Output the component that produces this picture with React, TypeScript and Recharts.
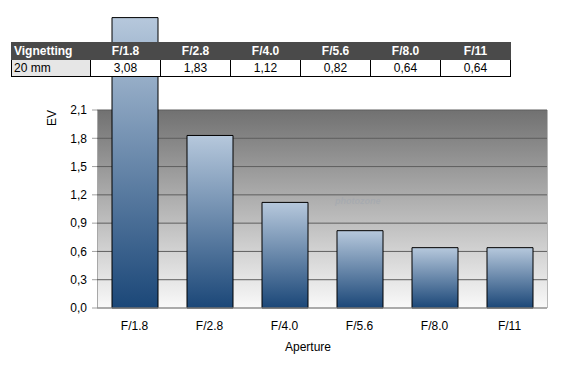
import { Bar, BarChart, CartesianGrid, XAxis, YAxis } from "recharts";

const apertures = ["F/1.8", "F/2.8", "F/4.0", "F/5.6", "F/8.0", "F/11"];
const vignetting = [3.08, 1.83, 1.12, 0.82, 0.64, 0.64];
const yTicks = [0, 0.3, 0.6, 0.9, 1.2, 1.5, 1.8, 2.1];
const rowLabel = "20 mm";

const data = apertures.map((name, i) => ({ name, value: vignetting[i] }));

const fmt = (v: number) => v.toFixed(2).replace(".", ",");
const fmtTick = (v: number) => v.toFixed(1).replace(".", ",");

const font = "'Liberation Sans', Arial, sans-serif";

export default function App() {
  return (
    <div style={{ position: "absolute", left: 0, top: 0, width: 562, height: 369, background: "#fff", fontFamily: font }}>
      {/* grey backdrop of the 0..2,1 band, sits behind the svg */}
      <div
        style={{
          position: "absolute",
          left: 97,
          top: 110,
          width: 449,
          height: 198,
          background: "linear-gradient(#717171, #f9f9f9)",
          borderLeft: "1px solid #a8a8a8",
          borderRight: "1px solid #b8b8b8",
        }}
      />
      <BarChart
        width={562}
        height={369}
        data={data}
        margin={{ top: 11, right: 15, bottom: 31, left: 0 }}
        barSize={46}
      >
        <defs>
          <linearGradient id="barGrad" x1="0" y1="0" x2="0" y2="1">
            <stop offset="0%" stopColor="#b6c8dc" />
            <stop offset="100%" stopColor="#1b4778" />
          </linearGradient>
        </defs>
        <CartesianGrid vertical={false} syncWithTicks stroke="#5e5e5e" />
        <XAxis
          dataKey="name"
          tickLine={false}
          tickSize={0}
          tickMargin={13}
          axisLine={{ stroke: "#a8a8a8" }}
          tick={{ fill: "#000", fontSize: 12, fontFamily: font }}
        />
        <YAxis
          width={97}
          domain={[0, 3.15]}
          ticks={yTicks}
          interval={0}
          tickFormatter={fmtTick}
          axisLine={false}
          tickSize={5}
          tickMargin={5}
          tickLine={{ stroke: "#a0a0a0" }}
          tick={{ fill: "#000", fontSize: 12, fontFamily: font }}
        />
        <Bar
          dataKey="value"
          fill="url(#barGrad)"
          stroke="#000"
          strokeWidth={1}
          isAnimationActive={false}
        />
      </BarChart>

      <div style={{ position: "absolute", left: 335, top: 196, fontSize: 9, color: "rgba(150,160,175,0.35)", fontWeight: "bold", fontStyle: "italic" }}>
        photozone
      </div>

      <div
        style={{
          position: "absolute",
          left: 40,
          top: 111,
          width: 24,
          height: 14,
          fontSize: 12,
          lineHeight: "14px",
          textAlign: "center",
          transform: "rotate(-90deg)",
        }}
      >
        EV
      </div>
      <div style={{ position: "absolute", left: 268, top: 340, width: 80, textAlign: "center", fontSize: 12 }}>
        Aperture
      </div>

      <table
        style={{
          position: "absolute",
          left: 11,
          top: 42,
          width: 498,
          borderCollapse: "collapse",
          fontSize: 12,
          tableLayout: "fixed",
        }}
      >
        <colgroup>
          <col style={{ width: 79 }} />
          {apertures.map((a) => (
            <col key={a} style={{ width: 70 }} />
          ))}
        </colgroup>
        <tbody>
          <tr style={{ background: "#4a4a4a", color: "#fff", fontWeight: "bold", height: 16 }}>
            <td style={{ padding: "0 2px", lineHeight: "16px", border: "1px solid #4a4a4a" }}>Vignetting</td>
            {apertures.map((a) => (
              <td key={a} style={{ textAlign: "center", padding: 0, lineHeight: "16px", border: "1px solid #4a4a4a" }}>
                {a}
              </td>
            ))}
          </tr>
          <tr style={{ height: 17 }}>
            <td style={{ background: "#e6e6e6", padding: "0 2px", lineHeight: "16px", border: "1px solid #000" }}>
              {rowLabel}
            </td>
            {vignetting.map((v, i) => (
              <td
                key={i}
                style={{ background: "#fff", textAlign: "center", padding: 0, lineHeight: "16px", border: "1px solid #000" }}
              >
                {fmt(v)}
              </td>
            ))}
          </tr>
        </tbody>
      </table>
    </div>
  );
}
